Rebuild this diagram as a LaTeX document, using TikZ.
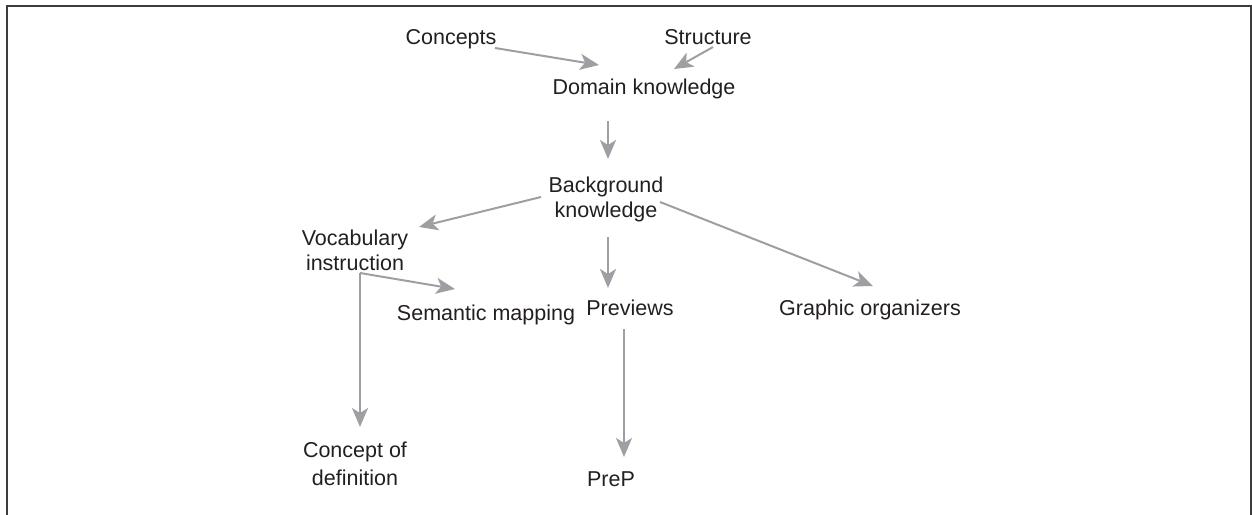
\documentclass[tikz,border=0pt]{standalone}
\usepackage{fontspec}
\setmainfont{Liberation Sans}
\usetikzlibrary{arrows.meta}
\definecolor{arrgray}{RGB}{157,159,162}
\definecolor{txt}{RGB}{35,31,32}
\definecolor{framec}{RGB}{60,60,60}
\tikzset{
  lbl/.style={inner sep=0pt, anchor=base, text=txt, align=center,
    font=\fontsize{21.5pt}{25pt}\selectfont},
  arr/.style={draw=arrgray, line width=2pt,
    -{Stealth[length=19pt,width=16pt,inset=5pt]}},
  frameline/.style={draw=framec, line width=2pt}
}
\begin{document}
\begin{tikzpicture}[x=1pt,y=-1pt]
\useasboundingbox (0,0) rectangle (1252,514);
\draw[frameline] (7,515) -- (7,6) -- (1250.5,6) -- (1250.5,515);

% single-line nodes: base = baseline; multi-line nodes: base = last baseline
\node[lbl] (con) at (451,44) {Concepts};
\node[lbl] (str) at (708,44) {Structure};
\node[lbl] (dom) at (644,94) {Domain knowledge};
\node[lbl] (bk)  at (606,217) {Background\\knowledge};
\node[lbl] (voc) at (355,270) {Vocabulary\\instruction};
\node[lbl] (sem) at (486,320) {Semantic mapping};
\node[lbl] (pre) at (630,315) {Previews};
\node[lbl] (gra) at (870,315) {Graphic organizers};
\node[lbl] (cod) at (355,485) {Concept of\\[3pt]definition};
\node[lbl] (prep) at (611,486) {PreP};

\draw[arr] ([shift={(44,4)}]con.base) -- ([shift={(-45,-29)}]dom.base);
\draw[arr] ([shift={(5,3)}]str.base) -- ([shift={(30,-25)}]dom.base);
\draw[arr] ([shift={(-36,27)}]dom.base) -- ([shift={(2,-58)}]bk.base);
\draw[arr] ([shift={(-65,-20)}]bk.base) -- ([shift={(64,-43)}]voc.base);
\draw[arr] ([shift={(2,20)}]bk.base) -- ([shift={(-22,-27)}]pre.base);
\draw[arr] ([shift={(54,-15)}]bk.base) -- ([shift={(3,-29)}]gra.base);
\coordinate (vocfoot) at ([shift={(5,3)}]voc.base);
\draw[arr] (vocfoot) -- ([shift={(-31,-31)}]sem.base);
\draw[arr] (vocfoot) -- ([shift={(5,-58)}]cod.base);
\draw[arr] ([shift={(-6,14)}]pre.base) -- ([shift={(13,-29)}]prep.base);
\end{tikzpicture}
\end{document}
